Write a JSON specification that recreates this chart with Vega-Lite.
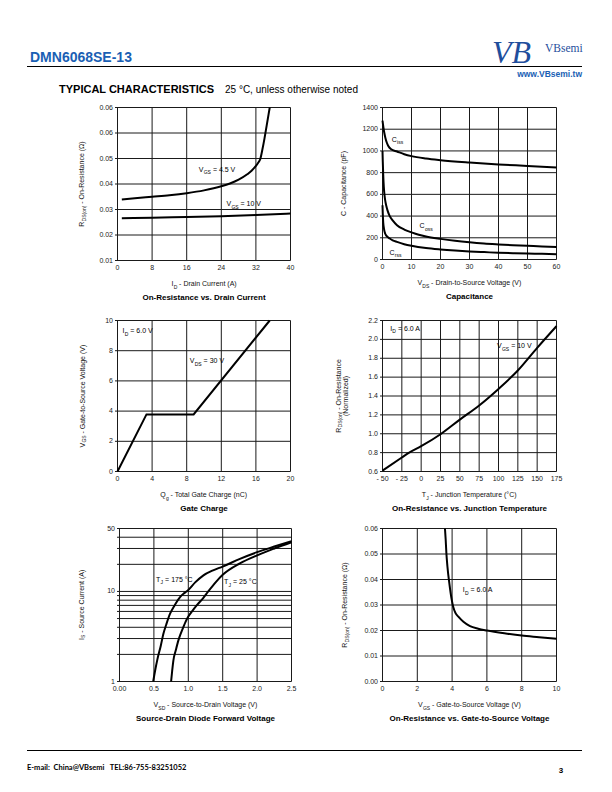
{
  "$schema": "https://vega.github.io/schema/vega-lite/v6.json",
  "width": 612,
  "height": 792,
  "autosize": {"type": "none"},
  "padding": 0,
  "background": "white",
  "config": {
    "view": {"stroke": null},
    "font": "Liberation Sans",
    "text": {"font": "Liberation Sans"}
  },
  "resolve": {"scale": {"x": "independent", "y": "independent"}, "axis": {"x": "independent", "y": "independent"}},
  "datasets": {
    "one": [{}],
    "c1": [
      {"s":"4.5","x":1,"y":0.0339},{"s":"4.5","x":4,"y":0.0344},{"s":"4.5","x":8,"y":0.035},{"s":"4.5","x":12,"y":0.0356},{"s":"4.5","x":16,"y":0.0364},{"s":"4.5","x":20,"y":0.0375},{"s":"4.5","x":24,"y":0.0391},{"s":"4.5","x":26,"y":0.0402},{"s":"4.5","x":28,"y":0.0417},{"s":"4.5","x":30,"y":0.0438},{"s":"4.5","x":31,"y":0.0452},{"s":"4.5","x":32,"y":0.0471},{"s":"4.5","x":32.6,"y":0.0485},{"s":"4.5","x":33,"y":0.0497},{"s":"4.5","x":33.5,"y":0.0535},{"s":"4.5","x":34,"y":0.058},{"s":"4.5","x":34.5,"y":0.063},{"s":"4.5","x":35.2,"y":0.07},
      {"s":"10","x":1,"y":0.0266},{"s":"10","x":8,"y":0.0268},{"s":"10","x":16,"y":0.0271},{"s":"10","x":24,"y":0.0274},{"s":"10","x":32,"y":0.0278},{"s":"10","x":40,"y":0.0284}
    ],
    "c1_gx": [{"v":0,"t":"0"},{"v":8,"t":"8"},{"v":16,"t":"16"},{"v":24,"t":"24"},{"v":32,"t":"32"},{"v":40,"t":"40"}],
    "c1_gy": [{"v":0.01,"t":"0.01"},{"v":0.02,"t":"0.02"},{"v":0.03,"t":"0.03"},{"v":0.04,"t":"0.04"},{"v":0.05,"t":"0.05"},{"v":0.06,"t":"0.06"},{"v":0.07,"t":"0.06"}],
    "c1_lab": [
      {"lx":18.8,"ly":0.0455,"a":"V","b":"GS","c":"= 4.5 V"},
      {"lx":25.2,"ly":0.032,"a":"V","b":"GS","c":"= 10 V"}
    ],
    "c2": [
      {"s":"iss","x":0,"y":1280},{"s":"iss","x":0.3,"y":1220},{"s":"iss","x":0.6,"y":1170},{"s":"iss","x":1,"y":1120},{"s":"iss","x":1.5,"y":1075},{"s":"iss","x":2,"y":1045},{"s":"iss","x":3,"y":1015},{"s":"iss","x":5,"y":995},{"s":"iss","x":7.5,"y":970},{"s":"iss","x":10,"y":952},{"s":"iss","x":15,"y":930},{"s":"iss","x":20,"y":915},{"s":"iss","x":30,"y":893},{"s":"iss","x":40,"y":875},{"s":"iss","x":50,"y":862},{"s":"iss","x":60,"y":848},
      {"s":"oss","x":0,"y":1000},{"s":"oss","x":0.1,"y":900},{"s":"oss","x":0.25,"y":780},{"s":"oss","x":0.45,"y":670},{"s":"oss","x":0.7,"y":590},{"s":"oss","x":0.9,"y":550},{"s":"oss","x":1.3,"y":495},{"s":"oss","x":1.7,"y":455},{"s":"oss","x":2.5,"y":400},{"s":"oss","x":3.5,"y":360},{"s":"oss","x":5,"y":316},{"s":"oss","x":7.5,"y":276},{"s":"oss","x":10,"y":250},{"s":"oss","x":12.5,"y":228},{"s":"oss","x":15,"y":212},{"s":"oss","x":20,"y":190},{"s":"oss","x":25,"y":172},{"s":"oss","x":30,"y":158},{"s":"oss","x":35,"y":147},{"s":"oss","x":40,"y":139},{"s":"oss","x":45,"y":132},{"s":"oss","x":50,"y":126},{"s":"oss","x":55,"y":120},{"s":"oss","x":60,"y":115},
      {"s":"rss","x":0,"y":500},{"s":"rss","x":0.1,"y":420},{"s":"rss","x":0.25,"y":340},{"s":"rss","x":0.5,"y":285},{"s":"rss","x":0.9,"y":240},{"s":"rss","x":1.3,"y":220},{"s":"rss","x":1.7,"y":209},{"s":"rss","x":2.5,"y":193},{"s":"rss","x":3.5,"y":177},{"s":"rss","x":5,"y":162},{"s":"rss","x":7.5,"y":141},{"s":"rss","x":10,"y":126},{"s":"rss","x":15,"y":105},{"s":"rss","x":20,"y":92},{"s":"rss","x":25,"y":82},{"s":"rss","x":30,"y":74},{"s":"rss","x":35,"y":68},{"s":"rss","x":40,"y":62},{"s":"rss","x":45,"y":58},{"s":"rss","x":50,"y":55},{"s":"rss","x":55,"y":52},{"s":"rss","x":60,"y":49}
    ],
    "c2_gx": [{"v":0,"t":"0"},{"v":10,"t":"10"},{"v":20,"t":"20"},{"v":30,"t":"30"},{"v":40,"t":"40"},{"v":50,"t":"50"},{"v":60,"t":"60"}],
    "c2_gy": [{"v":0,"t":"0"},{"v":200,"t":"200"},{"v":400,"t":"400"},{"v":600,"t":"600"},{"v":800,"t":"800"},{"v":1000,"t":"1000"},{"v":1200,"t":"1200"},{"v":1400,"t":"1400"}],
    "c2_lab": [
      {"lx":3.2,"ly":1105,"a":"C","b":"iss"},
      {"lx":12.8,"ly":307,"a":"C","b":"oss"},
      {"lx":2.4,"ly":61,"a":"C","b":"rss"}
    ],
    "c3": [{"x":0,"y":0},{"x":3.35,"y":3.78},{"x":8.8,"y":3.78},{"x":17.6,"y":10}],
    "c3_gx": [{"v":0,"t":"0"},{"v":4,"t":"4"},{"v":8,"t":"8"},{"v":12,"t":"12"},{"v":16,"t":"16"},{"v":20,"t":"20"}],
    "c3_gy": [{"v":0,"t":"0"},{"v":2,"t":"2"},{"v":4,"t":"4"},{"v":6,"t":"6"},{"v":8,"t":"8"},{"v":10,"t":"10"}],
    "c3_lab_id": [{"lx":0.58,"ly":9.29,"a":"I","b":"D","c":"= 6.0 V"}],
    "c3_lab_vds": [{"lx":8.36,"ly":7.31,"a":"V","b":"DS","c":"= 30 V"}],
    "c4": [{"x":-50,"y":0.61},{"x":-25,"y":0.748},{"x":-15.5,"y":0.8},{"x":0,"y":0.868},{"x":25,"y":0.995},{"x":50,"y":1.15},{"x":75,"y":1.3},{"x":100,"y":1.475},{"x":125,"y":1.67},{"x":150,"y":1.91},{"x":175,"y":2.14}],
    "c4_gx": [{"v":-50,"t":"- 50"},{"v":-25,"t":"- 25"},{"v":0,"t":"0"},{"v":25,"t":"25"},{"v":50,"t":"50"},{"v":75,"t":"75"},{"v":100,"t":"100"},{"v":125,"t":"125"},{"v":150,"t":"150"},{"v":175,"t":"175"}],
    "c4_gy": [{"v":0.6,"t":"0.6"},{"v":0.8,"t":"0.8"},{"v":1.0,"t":"1.0"},{"v":1.2,"t":"1.2"},{"v":1.4,"t":"1.4"},{"v":1.6,"t":"1.6"},{"v":1.8,"t":"1.8"},{"v":2.0,"t":"2.0"},{"v":2.2,"t":"2.2"}],
    "c4_lab_id": [{"lx":-40.1,"ly":2.115,"a":"I","b":"D","c":"= 6.0 A"}],
    "c4_lab_vgs": [{"lx":98.1,"ly":1.926,"a":"V","b":"GS","c":"= 10 V"}],
    "c5": [
      {"s":"175","x":0.49,"y":1},{"s":"175","x":0.52,"y":1.35},{"s":"175","x":0.55,"y":1.75},{"s":"175","x":0.6,"y":2.5},{"s":"175","x":0.638,"y":3.39},{"s":"175","x":0.68,"y":4.3},{"s":"175","x":0.735,"y":5.66},{"s":"175","x":0.8,"y":7.0},{"s":"175","x":0.88,"y":8.67},{"s":"175","x":0.95,"y":9.7},{"s":"175","x":1.0,"y":10.4},{"s":"175","x":1.1,"y":12.6},{"s":"175","x":1.22,"y":15.1},{"s":"175","x":1.35,"y":17},{"s":"175","x":1.5,"y":18.9},{"s":"175","x":1.75,"y":23},{"s":"175","x":2.0,"y":27.3},{"s":"175","x":2.25,"y":31.5},{"s":"175","x":2.5,"y":36.2},
      {"s":"25","x":0.75,"y":1},{"s":"25","x":0.765,"y":1.3},{"s":"25","x":0.783,"y":1.71},{"s":"25","x":0.82,"y":2.25},{"s":"25","x":0.856,"y":2.86},{"s":"25","x":0.89,"y":3.4},{"s":"25","x":0.928,"y":4.02},{"s":"25","x":0.96,"y":4.6},{"s":"25","x":0.996,"y":5.2},{"s":"25","x":1.06,"y":6.1},{"s":"25","x":1.122,"y":7.0},{"s":"25","x":1.219,"y":8.5},{"s":"25","x":1.29,"y":10},{"s":"25","x":1.4,"y":12.7},{"s":"25","x":1.5,"y":15.3},{"s":"25","x":1.75,"y":20.5},{"s":"25","x":2.0,"y":25.2},{"s":"25","x":2.25,"y":30},{"s":"25","x":2.5,"y":35.2}
    ],
    "c5_gx": [{"v":0,"t":"0.00"},{"v":0.5,"t":"0.5"},{"v":1,"t":"1.0"},{"v":1.5,"t":"1.5"},{"v":2,"t":"2.0"},{"v":2.5,"t":"2.5"}],
    "c5_gy": [{"v":1},{"v":2},{"v":3},{"v":4},{"v":5},{"v":6},{"v":7},{"v":8},{"v":9},{"v":10},{"v":20},{"v":30},{"v":40},{"v":50}],
    "c5_ly": [{"v":1,"t":"1"},{"v":10,"t":"10"},{"v":50,"t":"50"}],
    "c5_lab": [
      {"lx":0.532,"ly":13.5,"a":"T","b":"J","c":"= 175 °C"},
      {"lx":1.52,"ly":12.7,"a":"T","b":"J","c":"= 25 °C"}
    ],
    "c6": [{"x":3.59,"y":0.06},{"x":3.63,"y":0.0558},{"x":3.67,"y":0.0505},{"x":3.73,"y":0.0452},{"x":3.84,"y":0.0386},{"x":3.98,"y":0.032},{"x":4.07,"y":0.0291},{"x":4.2,"y":0.0268},{"x":4.36,"y":0.0254},{"x":4.65,"y":0.0234},{"x":5.03,"y":0.0217},{"x":5.5,"y":0.0207},{"x":6.0,"y":0.02},{"x":7.0,"y":0.0189},{"x":8.0,"y":0.018},{"x":9.0,"y":0.0174},{"x":10.0,"y":0.0168}],
    "c6_gx": [{"v":0,"t":"0"},{"v":2,"t":"2"},{"v":4,"t":"4"},{"v":6,"t":"6"},{"v":8,"t":"8"},{"v":10,"t":"10"}],
    "c6_gy": [{"v":0,"t":"0.00"},{"v":0.01,"t":"0.01"},{"v":0.02,"t":"0.02"},{"v":0.03,"t":"0.03"},{"v":0.04,"t":"0.04"},{"v":0.05,"t":"0.05"},{"v":0.06,"t":"0.06"}],
    "c6_lab": [{"lx":4.61,"ly":0.0357,"a":"I","b":"D","c":"= 6.0 A"}]
  },
  "layer": [
    {
      "data": {"name": "one"},
      "mark": {"type": "rule", "color": "#000", "strokeWidth": 1},
      "encoding": {
        "x": {"datum": 0, "type": "quantitative", "scale": {"domain": [0, 1], "range": [27, 582], "nice": false, "zero": false},
              "axis": {"orient": "top", "offset": 0, "ticks": false, "labels": false, "domain": false, "grid": false, "translate": 0,
                       "title": "DMN6068SE-13", "titleX": 30, "titleY": 62, "titleAlign": "left", "titleBaseline": "alphabetic", "titleAngle": 0,
                       "titleFont": "Liberation Sans", "titleFontSize": 14, "titleFontWeight": "bold", "titleColor": "#1a5fb4"}},
        "x2": {"datum": 1},
        "y": {"datum": 0, "type": "quantitative", "scale": {"domain": [0, 1], "range": [66.5, 67.5], "nice": false, "zero": false},
              "axis": {"orient": "left", "offset": 0, "ticks": false, "labels": false, "domain": false, "grid": false, "translate": 0,
                       "title": "www.VBsemi.tw", "titleX": 582, "titleY": 76.5, "titleAlign": "right", "titleBaseline": "alphabetic", "titleAngle": 0,
                       "titleFont": "Liberation Sans", "titleFontSize": 8.5, "titleFontWeight": "bold", "titleColor": "#1a5fb4"}}
      }
    },
    {
      "data": {"name": "one"},
      "mark": {"type": "rule", "color": "#000", "strokeWidth": 1},
      "encoding": {
        "x": {"datum": 0, "type": "quantitative", "scale": {"domain": [0, 1], "range": [27, 582], "nice": false, "zero": false},
              "axis": {"orient": "top", "offset": 0, "ticks": false, "labels": false, "domain": false, "grid": false, "translate": 0,
                       "title": "E-mail:\u00a0 China@VBsemi\u00a0\u00a0 TEL:86-755-83251052", "titleX": 27, "titleY": 769.5, "titleAlign": "left", "titleBaseline": "alphabetic", "titleAngle": 0,
                       "titleFont": "Lato, Liberation Sans", "titleFontSize": 7.5, "titleFontWeight": "bold", "titleColor": "#000"}},
        "x2": {"datum": 1},
        "y": {"datum": 0, "type": "quantitative", "scale": {"domain": [0, 1], "range": [750.5, 751.5], "nice": false, "zero": false},
              "axis": {"orient": "left", "offset": 0, "ticks": false, "labels": false, "domain": false, "grid": false, "translate": 0,
                       "title": "3", "titleX": 561, "titleY": 773, "titleAlign": "center", "titleBaseline": "alphabetic", "titleAngle": 0,
                       "titleFont": "Liberation Sans", "titleFontSize": 8, "titleFontWeight": "bold", "titleColor": "#000"}}
      }
    },
    {
      "data": {"name": "one"},
      "mark": {"type": "rule", "opacity": 0},
      "encoding": {
        "x": {"datum": 0, "type": "quantitative", "scale": {"domain": [0, 1], "range": [59, 216], "nice": false, "zero": false},
              "axis": {"orient": "top", "offset": 0, "ticks": false, "labels": false, "domain": false, "grid": false, "translate": 0,
                       "title": "TYPICAL CHARACTERISTICS", "titleX": 59, "titleY": 93, "titleAlign": "left", "titleBaseline": "alphabetic", "titleAngle": 0,
                       "titleFont": "Liberation Sans", "titleFontSize": 11, "titleFontWeight": "bold", "titleColor": "#000"}},
        "x2": {"datum": 1},
        "y": {"datum": 0, "type": "quantitative", "scale": {"domain": [0, 1], "range": [84, 94], "nice": false, "zero": false},
              "axis": {"orient": "left", "offset": 0, "ticks": false, "labels": false, "domain": false, "grid": false, "translate": 0,
                       "title": "25 °C, unless otherwise noted", "titleX": 225, "titleY": 93, "titleAlign": "left", "titleBaseline": "alphabetic", "titleAngle": 0,
                       "titleFont": "Liberation Sans", "titleFontSize": 10, "titleFontWeight": "normal", "titleColor": "#000"}}
      }
    },
    {
      "data": {"name": "one"},
      "mark": {"type": "rule", "opacity": 0},
      "encoding": {
        "x": {"datum": 0, "type": "quantitative", "scale": {"domain": [0, 1], "range": [490, 582], "nice": false, "zero": false},
              "axis": {"orient": "top", "offset": 0, "ticks": false, "labels": false, "domain": false, "grid": false, "translate": 0,
                       "title": "VBsemi", "titleX": 545, "titleY": 51.5, "titleAlign": "left", "titleBaseline": "alphabetic", "titleAngle": 0,
                       "titleFont": "Liberation Serif", "titleFontSize": 11.5, "titleFontWeight": "normal", "titleColor": "#1f4e9c"}},
        "x2": {"datum": 1},
        "y": {"datum": 0, "type": "quantitative", "scale": {"domain": [0, 1], "range": [33, 65], "nice": false, "zero": false},
              "axis": {"orient": "left", "offset": 0, "ticks": false, "labels": false, "domain": false, "grid": false, "translate": 0,
                       "title": "VB", "titleX": 492, "titleY": 63, "titleAlign": "left", "titleBaseline": "alphabetic", "titleAngle": 0,
                       "titleFont": "Liberation Serif", "titleFontSize": 32, "titleFontStyle": "italic", "titleFontWeight": "normal", "titleColor": "#1f4e9c"}}
      }
    },
    {
      "layer": [
        {"data": {"name": "c1_gx"}, "mark": {"type": "rule", "color": "#1a1a1a", "strokeWidth": 1},
         "encoding": {"x": {"field": "v", "type": "quantitative", "axis": null}, "y": {"datum": 0.01, "type": "quantitative", "axis": null}, "y2": {"datum": 0.07}}},
        {"data": {"name": "c1_gy"}, "mark": {"type": "rule", "color": "#1a1a1a", "strokeWidth": 1},
         "encoding": {"y": {"field": "v", "type": "quantitative", "axis": null}, "x": {"datum": -0.58, "type": "quantitative", "axis": null}, "x2": {"datum": 40}}},
        {"data": {"name": "c1"}, "mark": {"type": "line", "color": "#000", "strokeWidth": 2, "interpolate": "monotone"},
         "encoding": {
           "x": {"field": "x", "type": "quantitative", "scale": {"domain": [0, 40], "range": [117.5, 290.5], "nice": false, "zero": false}, "axis": null},
           "y": {"field": "y", "type": "quantitative", "scale": {"domain": [0.01, 0.07], "range": [260.5, 107.5], "nice": false, "zero": false}, "axis": null},
           "detail": {"field": "s", "type": "nominal"}}},
        {"data": {"name": "c1_gy"}, "mark": {"type": "text", "align": "right", "baseline": "middle", "fontSize": 7, "color": "#222", "dx": -4.5},
         "encoding": {"x": {"datum": 0, "type": "quantitative", "axis": null}, "y": {"field": "v", "type": "quantitative", "axis": null}, "text": {"field": "t"}}},
        {"data": {"name": "c1_gx"}, "mark": {"type": "text", "align": "center", "baseline": "top", "fontSize": 7, "color": "#222", "dy": 3.5},
         "encoding": {"x": {"field": "v", "type": "quantitative", "axis": null}, "y": {"datum": 0.01, "type": "quantitative", "axis": null}, "text": {"field": "t"}}},
        {"data": {"name": "c1_lab"}, "mark": {"type": "text", "align": "left", "baseline": "middle", "fontSize": 7, "color": "#000"},
         "encoding": {"x": {"field": "lx", "type": "quantitative", "axis": null}, "y": {"field": "ly", "type": "quantitative", "axis": null}, "text": {"field": "a"}}},
        {"data": {"name": "c1_lab"}, "mark": {"type": "text", "align": "left", "baseline": "middle", "fontSize": 5, "color": "#000", "dx": 4.9, "dy": 2.5},
         "encoding": {"x": {"field": "lx", "type": "quantitative", "axis": null}, "y": {"field": "ly", "type": "quantitative", "axis": null}, "text": {"field": "b"}}},
        {"data": {"name": "c1_lab"}, "mark": {"type": "text", "align": "left", "baseline": "middle", "fontSize": 7, "color": "#000", "dx": 14.1},
         "encoding": {"x": {"field": "lx", "type": "quantitative", "axis": null}, "y": {"field": "ly", "type": "quantitative", "axis": null}, "text": {"field": "c"}}},
        {"data": {"name": "one"}, "mark": {"type": "text", "text": "I", "align": "left", "baseline": "middle", "fontSize": 7, "color": "#111", "dx": -32.5, "dy": 23.5},
         "encoding": {"x": {"datum": 20, "type": "quantitative", "axis": null}, "y": {"datum": 0.01, "type": "quantitative", "axis": null}}},
        {"data": {"name": "one"}, "mark": {"type": "text", "text": "D", "align": "left", "baseline": "middle", "fontSize": 5, "color": "#111", "dx": -30.3, "dy": 26},
         "encoding": {"x": {"datum": 20, "type": "quantitative", "axis": null}, "y": {"datum": 0.01, "type": "quantitative", "axis": null}}},
        {"data": {"name": "one"}, "mark": {"type": "text", "text": "- Drain Current (A)", "align": "left", "baseline": "middle", "fontSize": 7, "color": "#111", "dx": -24.9, "dy": 23.5},
         "encoding": {"x": {"datum": 20, "type": "quantitative", "axis": null}, "y": {"datum": 0.01, "type": "quantitative", "axis": null}}},
        {"data": {"name": "one"}, "mark": {"type": "text", "text": "R", "angle": 270, "align": "left", "baseline": "alphabetic", "fontSize": 7, "color": "#111", "dx": -42.7, "dy": -33.5},
         "encoding": {"x": {"datum": 0, "type": "quantitative", "axis": null}, "y": {"datum": 0.04, "type": "quantitative", "axis": null}}},
        {"data": {"name": "one"}, "mark": {"type": "text", "text": "DS(on)", "angle": 270, "align": "left", "baseline": "alphabetic", "fontSize": 5, "color": "#111", "dx": -37.4, "dy": -31.7},
         "encoding": {"x": {"datum": 0, "type": "quantitative", "axis": null}, "y": {"datum": 0.04, "type": "quantitative", "axis": null}}},
        {"data": {"name": "one"}, "mark": {"type": "text", "text": "- On-Resistance (Ω)", "angle": 270, "align": "left", "baseline": "alphabetic", "fontSize": 7, "color": "#111", "dx": -19.8, "dy": -33.5},
         "encoding": {"x": {"datum": 0, "type": "quantitative", "axis": null}, "y": {"datum": 0.04, "type": "quantitative", "axis": null}}},
        {"data": {"name": "one"}, "mark": {"type": "text", "text": "On-Resistance vs. Drain Current", "fontSize": 8, "fontWeight": "bold", "align": "center", "baseline": "middle", "dy": 37.5, "color": "#000"},
         "encoding": {"x": {"datum": 20, "type": "quantitative", "axis": null}, "y": {"datum": 0.01, "type": "quantitative", "axis": null}}}
      ]
    },
    {
      "layer": [
        {"data": {"name": "c2_gx"}, "mark": {"type": "rule", "color": "#1a1a1a", "strokeWidth": 1},
         "encoding": {"x": {"field": "v", "type": "quantitative", "axis": null}, "y": {"datum": 0, "type": "quantitative", "axis": null}, "y2": {"datum": 1400}}},
        {"data": {"name": "c2_gy"}, "mark": {"type": "rule", "color": "#1a1a1a", "strokeWidth": 1},
         "encoding": {"y": {"field": "v", "type": "quantitative", "axis": null}, "x": {"datum": -0.86, "type": "quantitative", "axis": null}, "x2": {"datum": 60}}},
        {"data": {"name": "c2"}, "mark": {"type": "line", "color": "#000", "strokeWidth": 2, "interpolate": "monotone"},
         "encoding": {
           "x": {"field": "x", "type": "quantitative", "scale": {"domain": [0, 60], "range": [382.5, 556.5], "nice": false, "zero": false}, "axis": null},
           "y": {"field": "y", "type": "quantitative", "scale": {"domain": [0, 1400], "range": [259.5, 107.5], "nice": false, "zero": false}, "axis": null},
           "detail": {"field": "s", "type": "nominal"}}},
        {"data": {"name": "c2_gy"}, "mark": {"type": "text", "align": "right", "baseline": "middle", "fontSize": 7, "color": "#222", "dx": -4.5},
         "encoding": {"x": {"datum": 0, "type": "quantitative", "axis": null}, "y": {"field": "v", "type": "quantitative", "axis": null}, "text": {"field": "t"}}},
        {"data": {"name": "c2_gx"}, "mark": {"type": "text", "align": "center", "baseline": "top", "fontSize": 7, "color": "#222", "dy": 3.5},
         "encoding": {"x": {"field": "v", "type": "quantitative", "axis": null}, "y": {"datum": 0, "type": "quantitative", "axis": null}, "text": {"field": "t"}}},
        {"data": {"name": "c2_lab"}, "mark": {"type": "text", "align": "left", "baseline": "middle", "fontSize": 7, "color": "#000"},
         "encoding": {"x": {"field": "lx", "type": "quantitative", "axis": null}, "y": {"field": "ly", "type": "quantitative", "axis": null}, "text": {"field": "a"}}},
        {"data": {"name": "c2_lab"}, "mark": {"type": "text", "align": "left", "baseline": "middle", "fontSize": 5, "color": "#000", "dx": 5.3, "dy": 2.5},
         "encoding": {"x": {"field": "lx", "type": "quantitative", "axis": null}, "y": {"field": "ly", "type": "quantitative", "axis": null}, "text": {"field": "b"}}},
        {"data": {"name": "one"}, "mark": {"type": "text", "text": "V", "align": "left", "baseline": "middle", "fontSize": 7, "color": "#111", "dx": -52.1, "dy": 23.5},
         "encoding": {"x": {"datum": 30, "type": "quantitative", "axis": null}, "y": {"datum": 0, "type": "quantitative", "axis": null}}},
        {"data": {"name": "one"}, "mark": {"type": "text", "text": "DS", "align": "left", "baseline": "middle", "fontSize": 5, "color": "#111", "dx": -47.2, "dy": 26},
         "encoding": {"x": {"datum": 30, "type": "quantitative", "axis": null}, "y": {"datum": 0, "type": "quantitative", "axis": null}}},
        {"data": {"name": "one"}, "mark": {"type": "text", "text": "- Drain-to-Source Voltage (V)", "align": "left", "baseline": "middle", "fontSize": 7, "color": "#111", "dx": -38.4, "dy": 23.5},
         "encoding": {"x": {"datum": 30, "type": "quantitative", "axis": null}, "y": {"datum": 0, "type": "quantitative", "axis": null}}},
        {"data": {"name": "one"}, "mark": {"type": "text", "text": "C - Capacitance (pF)", "angle": 270, "align": "center", "baseline": "alphabetic", "fontSize": 7, "color": "#111", "dy": -37},
         "encoding": {"x": {"datum": 0, "type": "quantitative", "axis": null}, "y": {"datum": 700, "type": "quantitative", "axis": null}}},
        {"data": {"name": "one"}, "mark": {"type": "text", "text": "Capacitance", "fontSize": 8, "fontWeight": "bold", "align": "center", "baseline": "middle", "dy": 37.5, "color": "#000"},
         "encoding": {"x": {"datum": 30, "type": "quantitative", "axis": null}, "y": {"datum": 0, "type": "quantitative", "axis": null}}}
      ]
    },
    {
      "layer": [
        {"data": {"name": "c3_gx"}, "mark": {"type": "rule", "color": "#1a1a1a", "strokeWidth": 1},
         "encoding": {"x": {"field": "v", "type": "quantitative", "axis": null}, "y": {"datum": 0, "type": "quantitative", "axis": null}, "y2": {"datum": 10}}},
        {"data": {"name": "c3_gy"}, "mark": {"type": "rule", "color": "#1a1a1a", "strokeWidth": 1},
         "encoding": {"y": {"field": "v", "type": "quantitative", "axis": null}, "x": {"datum": -0.29, "type": "quantitative", "axis": null}, "x2": {"datum": 20}}},
        {"data": {"name": "c3"}, "mark": {"type": "line", "color": "#000", "strokeWidth": 2},
         "encoding": {
           "x": {"field": "x", "type": "quantitative", "scale": {"domain": [0, 20], "range": [117.5, 290.5], "nice": false, "zero": false}, "axis": null},
           "y": {"field": "y", "type": "quantitative", "scale": {"domain": [0, 10], "range": [471.5, 320.5], "nice": false, "zero": false}, "axis": null}}},
        {"data": {"name": "c3_gy"}, "mark": {"type": "text", "align": "right", "baseline": "middle", "fontSize": 7, "color": "#222", "dx": -4.5},
         "encoding": {"x": {"datum": 0, "type": "quantitative", "axis": null}, "y": {"field": "v", "type": "quantitative", "axis": null}, "text": {"field": "t"}}},
        {"data": {"name": "c3_gx"}, "mark": {"type": "text", "align": "center", "baseline": "top", "fontSize": 7, "color": "#222", "dy": 3.5},
         "encoding": {"x": {"field": "v", "type": "quantitative", "axis": null}, "y": {"datum": 0, "type": "quantitative", "axis": null}, "text": {"field": "t"}}},
        {"data": {"name": "c3_lab_id"}, "mark": {"type": "text", "align": "left", "baseline": "middle", "fontSize": 7, "color": "#000"},
         "encoding": {"x": {"field": "lx", "type": "quantitative", "axis": null}, "y": {"field": "ly", "type": "quantitative", "axis": null}, "text": {"field": "a"}}},
        {"data": {"name": "c3_lab_id"}, "mark": {"type": "text", "align": "left", "baseline": "middle", "fontSize": 5, "color": "#000", "dx": 2.2, "dy": 2.5},
         "encoding": {"x": {"field": "lx", "type": "quantitative", "axis": null}, "y": {"field": "ly", "type": "quantitative", "axis": null}, "text": {"field": "b"}}},
        {"data": {"name": "c3_lab_id"}, "mark": {"type": "text", "align": "left", "baseline": "middle", "fontSize": 7, "color": "#000", "dx": 7.8},
         "encoding": {"x": {"field": "lx", "type": "quantitative", "axis": null}, "y": {"field": "ly", "type": "quantitative", "axis": null}, "text": {"field": "c"}}},
        {"data": {"name": "c3_lab_vds"}, "mark": {"type": "text", "align": "left", "baseline": "middle", "fontSize": 7, "color": "#000"},
         "encoding": {"x": {"field": "lx", "type": "quantitative", "axis": null}, "y": {"field": "ly", "type": "quantitative", "axis": null}, "text": {"field": "a"}}},
        {"data": {"name": "c3_lab_vds"}, "mark": {"type": "text", "align": "left", "baseline": "middle", "fontSize": 5, "color": "#000", "dx": 4.9, "dy": 2.5},
         "encoding": {"x": {"field": "lx", "type": "quantitative", "axis": null}, "y": {"field": "ly", "type": "quantitative", "axis": null}, "text": {"field": "b"}}},
        {"data": {"name": "c3_lab_vds"}, "mark": {"type": "text", "align": "left", "baseline": "middle", "fontSize": 7, "color": "#000", "dx": 13.8},
         "encoding": {"x": {"field": "lx", "type": "quantitative", "axis": null}, "y": {"field": "ly", "type": "quantitative", "axis": null}, "text": {"field": "c"}}},
        {"data": {"name": "one"}, "mark": {"type": "text", "text": "Q", "align": "left", "baseline": "middle", "fontSize": 7, "color": "#111", "dx": -43.8, "dy": 23.5},
         "encoding": {"x": {"datum": 10, "type": "quantitative", "axis": null}, "y": {"datum": 0, "type": "quantitative", "axis": null}}},
        {"data": {"name": "one"}, "mark": {"type": "text", "text": "g", "align": "left", "baseline": "middle", "fontSize": 5, "color": "#111", "dx": -38.1, "dy": 26},
         "encoding": {"x": {"datum": 10, "type": "quantitative", "axis": null}, "y": {"datum": 0, "type": "quantitative", "axis": null}}},
        {"data": {"name": "one"}, "mark": {"type": "text", "text": "- Total Gate Charge (nC)", "align": "left", "baseline": "middle", "fontSize": 7, "color": "#111", "dx": -33.5, "dy": 23.5},
         "encoding": {"x": {"datum": 10, "type": "quantitative", "axis": null}, "y": {"datum": 0, "type": "quantitative", "axis": null}}},
        {"data": {"name": "one"}, "mark": {"type": "text", "text": "V", "angle": 270, "align": "left", "baseline": "alphabetic", "fontSize": 7, "color": "#111", "dx": -51.5, "dy": -33},
         "encoding": {"x": {"datum": 0, "type": "quantitative", "axis": null}, "y": {"datum": 5, "type": "quantitative", "axis": null}}},
        {"data": {"name": "one"}, "mark": {"type": "text", "text": "GS", "angle": 270, "align": "left", "baseline": "alphabetic", "fontSize": 5, "color": "#111", "dx": -46.6, "dy": -31.2},
         "encoding": {"x": {"datum": 0, "type": "quantitative", "axis": null}, "y": {"datum": 5, "type": "quantitative", "axis": null}}},
        {"data": {"name": "one"}, "mark": {"type": "text", "text": "- Gate-to-Source Voltage (V)", "angle": 270, "align": "left", "baseline": "alphabetic", "fontSize": 7, "color": "#111", "dx": -37.5, "dy": -33},
         "encoding": {"x": {"datum": 0, "type": "quantitative", "axis": null}, "y": {"datum": 5, "type": "quantitative", "axis": null}}},
        {"data": {"name": "one"}, "mark": {"type": "text", "text": "Gate Charge", "fontSize": 8, "fontWeight": "bold", "align": "center", "baseline": "middle", "dy": 37.5, "color": "#000"},
         "encoding": {"x": {"datum": 10, "type": "quantitative", "axis": null}, "y": {"datum": 0, "type": "quantitative", "axis": null}}}
      ]
    },
    {
      "layer": [
        {"data": {"name": "c4_gx"}, "mark": {"type": "rule", "color": "#1a1a1a", "strokeWidth": 1},
         "encoding": {"x": {"field": "v", "type": "quantitative", "axis": null}, "y": {"datum": 0.6, "type": "quantitative", "axis": null}, "y2": {"datum": 2.2}}},
        {"data": {"name": "c4_gy"}, "mark": {"type": "rule", "color": "#1a1a1a", "strokeWidth": 1},
         "encoding": {"y": {"field": "v", "type": "quantitative", "axis": null}, "x": {"datum": -53.2, "type": "quantitative", "axis": null}, "x2": {"datum": 175}}},
        {"data": {"name": "c4"}, "mark": {"type": "line", "color": "#000", "strokeWidth": 2, "interpolate": "monotone"},
         "encoding": {
           "x": {"field": "x", "type": "quantitative", "scale": {"domain": [-50, 175], "range": [382.5, 556.5], "nice": false, "zero": false}, "axis": null},
           "y": {"field": "y", "type": "quantitative", "scale": {"domain": [0.6, 2.2], "range": [471.5, 320.5], "nice": false, "zero": false}, "axis": null}}},
        {"data": {"name": "c4_gy"}, "mark": {"type": "text", "align": "right", "baseline": "middle", "fontSize": 7, "color": "#222", "dx": -4.5},
         "encoding": {"x": {"datum": -50, "type": "quantitative", "axis": null}, "y": {"field": "v", "type": "quantitative", "axis": null}, "text": {"field": "t"}}},
        {"data": {"name": "c4_gx"}, "mark": {"type": "text", "align": "center", "baseline": "top", "fontSize": 7, "color": "#222", "dy": 3.5},
         "encoding": {"x": {"field": "v", "type": "quantitative", "axis": null}, "y": {"datum": 0.6, "type": "quantitative", "axis": null}, "text": {"field": "t"}}},
        {"data": {"name": "c4_lab_id"}, "mark": {"type": "text", "align": "left", "baseline": "middle", "fontSize": 7, "color": "#000"},
         "encoding": {"x": {"field": "lx", "type": "quantitative", "axis": null}, "y": {"field": "ly", "type": "quantitative", "axis": null}, "text": {"field": "a"}}},
        {"data": {"name": "c4_lab_id"}, "mark": {"type": "text", "align": "left", "baseline": "middle", "fontSize": 5, "color": "#000", "dx": 2.2, "dy": 2.5},
         "encoding": {"x": {"field": "lx", "type": "quantitative", "axis": null}, "y": {"field": "ly", "type": "quantitative", "axis": null}, "text": {"field": "b"}}},
        {"data": {"name": "c4_lab_id"}, "mark": {"type": "text", "align": "left", "baseline": "middle", "fontSize": 7, "color": "#000", "dx": 7.8},
         "encoding": {"x": {"field": "lx", "type": "quantitative", "axis": null}, "y": {"field": "ly", "type": "quantitative", "axis": null}, "text": {"field": "c"}}},
        {"data": {"name": "c4_lab_vgs"}, "mark": {"type": "text", "align": "left", "baseline": "middle", "fontSize": 7, "color": "#000"},
         "encoding": {"x": {"field": "lx", "type": "quantitative", "axis": null}, "y": {"field": "ly", "type": "quantitative", "axis": null}, "text": {"field": "a"}}},
        {"data": {"name": "c4_lab_vgs"}, "mark": {"type": "text", "align": "left", "baseline": "middle", "fontSize": 5, "color": "#000", "dx": 4.9, "dy": 2.5},
         "encoding": {"x": {"field": "lx", "type": "quantitative", "axis": null}, "y": {"field": "ly", "type": "quantitative", "axis": null}, "text": {"field": "b"}}},
        {"data": {"name": "c4_lab_vgs"}, "mark": {"type": "text", "align": "left", "baseline": "middle", "fontSize": 7, "color": "#000", "dx": 14.1},
         "encoding": {"x": {"field": "lx", "type": "quantitative", "axis": null}, "y": {"field": "ly", "type": "quantitative", "axis": null}, "text": {"field": "c"}}},
        {"data": {"name": "one"}, "mark": {"type": "text", "text": "T", "align": "left", "baseline": "middle", "fontSize": 7, "color": "#111", "dx": -47.8, "dy": 23.5},
         "encoding": {"x": {"datum": 62.5, "type": "quantitative", "axis": null}, "y": {"datum": 0.6, "type": "quantitative", "axis": null}}},
        {"data": {"name": "one"}, "mark": {"type": "text", "text": "J", "align": "left", "baseline": "middle", "fontSize": 5, "color": "#111", "dx": -43.3, "dy": 26},
         "encoding": {"x": {"datum": 62.5, "type": "quantitative", "axis": null}, "y": {"datum": 0.6, "type": "quantitative", "axis": null}}},
        {"data": {"name": "one"}, "mark": {"type": "text", "text": "- Junction Temperature (°C)", "align": "left", "baseline": "middle", "fontSize": 7, "color": "#111", "dx": -38.9, "dy": 23.5},
         "encoding": {"x": {"datum": 62.5, "type": "quantitative", "axis": null}, "y": {"datum": 0.6, "type": "quantitative", "axis": null}}},
        {"data": {"name": "one"}, "mark": {"type": "text", "text": "R", "angle": 270, "align": "left", "baseline": "alphabetic", "fontSize": 7, "color": "#111", "dx": -36.7, "dy": -42},
         "encoding": {"x": {"datum": -50, "type": "quantitative", "axis": null}, "y": {"datum": 1.4, "type": "quantitative", "axis": null}}},
        {"data": {"name": "one"}, "mark": {"type": "text", "text": "DS(on)", "angle": 270, "align": "left", "baseline": "alphabetic", "fontSize": 5, "color": "#111", "dx": -31.4, "dy": -40.2},
         "encoding": {"x": {"datum": -50, "type": "quantitative", "axis": null}, "y": {"datum": 1.4, "type": "quantitative", "axis": null}}},
        {"data": {"name": "one"}, "mark": {"type": "text", "text": "- On-Resistance", "angle": 270, "align": "left", "baseline": "alphabetic", "fontSize": 7, "color": "#111", "dx": -13.8, "dy": -42},
         "encoding": {"x": {"datum": -50, "type": "quantitative", "axis": null}, "y": {"datum": 1.4, "type": "quantitative", "axis": null}}},
        {"data": {"name": "one"}, "mark": {"type": "text", "text": "(Normalized)", "angle": 270, "align": "center", "baseline": "alphabetic", "fontSize": 7, "color": "#111", "dy": -34.5},
         "encoding": {"x": {"datum": -50, "type": "quantitative", "axis": null}, "y": {"datum": 1.4, "type": "quantitative", "axis": null}}},
        {"data": {"name": "one"}, "mark": {"type": "text", "text": "On-Resistance vs. Junction Temperature", "fontSize": 8, "fontWeight": "bold", "align": "center", "baseline": "middle", "dy": 37.5, "color": "#000"},
         "encoding": {"x": {"datum": 62.5, "type": "quantitative", "axis": null}, "y": {"datum": 0.6, "type": "quantitative", "axis": null}}}
      ]
    },
    {
      "layer": [
        {"data": {"name": "c5_gx"}, "mark": {"type": "rule", "color": "#1a1a1a", "strokeWidth": 1},
         "encoding": {"x": {"field": "v", "type": "quantitative", "axis": null}, "y": {"datum": 1, "type": "quantitative", "axis": null}, "y2": {"datum": 50}}},
        {"data": {"name": "c5_gy"}, "mark": {"type": "rule", "color": "#1a1a1a", "strokeWidth": 1},
         "encoding": {"y": {"field": "v", "type": "quantitative", "axis": null}, "x": {"datum": -0.036, "type": "quantitative", "axis": null}, "x2": {"datum": 2.5}}},
        {"data": {"name": "c5"}, "mark": {"type": "line", "color": "#000", "strokeWidth": 2, "interpolate": "monotone"},
         "encoding": {
           "x": {"field": "x", "type": "quantitative", "scale": {"domain": [0, 2.5], "range": [119.5, 291.5], "nice": false, "zero": false}, "axis": null},
           "y": {"field": "y", "type": "quantitative", "scale": {"type": "log", "domain": [1, 50], "range": [681.5, 528.5], "nice": false}, "axis": null},
           "detail": {"field": "s", "type": "nominal"}}},
        {"data": {"name": "c5_ly"}, "mark": {"type": "text", "align": "right", "baseline": "middle", "fontSize": 7, "color": "#222", "dx": -4.5},
         "encoding": {"x": {"datum": 0, "type": "quantitative", "axis": null}, "y": {"field": "v", "type": "quantitative", "axis": null}, "text": {"field": "t"}}},
        {"data": {"name": "c5_gx"}, "mark": {"type": "text", "align": "center", "baseline": "top", "fontSize": 7, "color": "#222", "dy": 3.5},
         "encoding": {"x": {"field": "v", "type": "quantitative", "axis": null}, "y": {"datum": 1, "type": "quantitative", "axis": null}, "text": {"field": "t"}}},
        {"data": {"name": "c5_lab"}, "mark": {"type": "text", "align": "left", "baseline": "middle", "fontSize": 7, "color": "#000"},
         "encoding": {"x": {"field": "lx", "type": "quantitative", "axis": null}, "y": {"field": "ly", "type": "quantitative", "axis": null}, "text": {"field": "a"}}},
        {"data": {"name": "c5_lab"}, "mark": {"type": "text", "align": "left", "baseline": "middle", "fontSize": 5, "color": "#000", "dx": 4.5, "dy": 2.5},
         "encoding": {"x": {"field": "lx", "type": "quantitative", "axis": null}, "y": {"field": "ly", "type": "quantitative", "axis": null}, "text": {"field": "b"}}},
        {"data": {"name": "c5_lab"}, "mark": {"type": "text", "align": "left", "baseline": "middle", "fontSize": 7, "color": "#000", "dx": 9.0},
         "encoding": {"x": {"field": "lx", "type": "quantitative", "axis": null}, "y": {"field": "ly", "type": "quantitative", "axis": null}, "text": {"field": "c"}}},
        {"data": {"name": "one"}, "mark": {"type": "text", "text": "V", "align": "left", "baseline": "middle", "fontSize": 7, "color": "#111", "dx": -52.1, "dy": 23.5},
         "encoding": {"x": {"datum": 1.25, "type": "quantitative", "axis": null}, "y": {"datum": 1, "type": "quantitative", "axis": null}}},
        {"data": {"name": "one"}, "mark": {"type": "text", "text": "SD", "align": "left", "baseline": "middle", "fontSize": 5, "color": "#111", "dx": -47.2, "dy": 26},
         "encoding": {"x": {"datum": 1.25, "type": "quantitative", "axis": null}, "y": {"datum": 1, "type": "quantitative", "axis": null}}},
        {"data": {"name": "one"}, "mark": {"type": "text", "text": "- Source-to-Drain Voltage (V)", "align": "left", "baseline": "middle", "fontSize": 7, "color": "#111", "dx": -38.4, "dy": 23.5},
         "encoding": {"x": {"datum": 1.25, "type": "quantitative", "axis": null}, "y": {"datum": 1, "type": "quantitative", "axis": null}}},
        {"data": {"name": "one"}, "mark": {"type": "text", "text": "I", "angle": 270, "align": "left", "baseline": "alphabetic", "fontSize": 7, "color": "#111", "dx": -35.1, "dy": -36},
         "encoding": {"x": {"datum": 0, "type": "quantitative", "axis": null}, "y": {"datum": 7.071, "type": "quantitative", "axis": null}}},
        {"data": {"name": "one"}, "mark": {"type": "text", "text": "S", "angle": 270, "align": "left", "baseline": "alphabetic", "fontSize": 5, "color": "#111", "dx": -32.9, "dy": -34.2},
         "encoding": {"x": {"datum": 0, "type": "quantitative", "axis": null}, "y": {"datum": 7.071, "type": "quantitative", "axis": null}}},
        {"data": {"name": "one"}, "mark": {"type": "text", "text": "- Source Current (A)", "angle": 270, "align": "left", "baseline": "alphabetic", "fontSize": 7, "color": "#111", "dx": -27.8, "dy": -36},
         "encoding": {"x": {"datum": 0, "type": "quantitative", "axis": null}, "y": {"datum": 7.071, "type": "quantitative", "axis": null}}},
        {"data": {"name": "one"}, "mark": {"type": "text", "text": "Source-Drain Diode Forward Voltage", "fontSize": 8, "fontWeight": "bold", "align": "center", "baseline": "middle", "dy": 37.5, "color": "#000"},
         "encoding": {"x": {"datum": 1.25, "type": "quantitative", "axis": null}, "y": {"datum": 1, "type": "quantitative", "axis": null}}}
      ]
    },
    {
      "layer": [
        {"data": {"name": "c6_gx"}, "mark": {"type": "rule", "color": "#1a1a1a", "strokeWidth": 1},
         "encoding": {"x": {"field": "v", "type": "quantitative", "axis": null}, "y": {"datum": 0, "type": "quantitative", "axis": null}, "y2": {"datum": 0.06}}},
        {"data": {"name": "c6_gy"}, "mark": {"type": "rule", "color": "#1a1a1a", "strokeWidth": 1},
         "encoding": {"y": {"field": "v", "type": "quantitative", "axis": null}, "x": {"datum": -0.144, "type": "quantitative", "axis": null}, "x2": {"datum": 10}}},
        {"data": {"name": "c6"}, "mark": {"type": "line", "color": "#000", "strokeWidth": 2, "interpolate": "monotone"},
         "encoding": {
           "x": {"field": "x", "type": "quantitative", "scale": {"domain": [0, 10], "range": [382.5, 556.5], "nice": false, "zero": false}, "axis": null},
           "y": {"field": "y", "type": "quantitative", "scale": {"domain": [0, 0.06], "range": [681.5, 528.5], "nice": false, "zero": false}, "axis": null}}},
        {"data": {"name": "c6_gy"}, "mark": {"type": "text", "align": "right", "baseline": "middle", "fontSize": 7, "color": "#222", "dx": -4.5},
         "encoding": {"x": {"datum": 0, "type": "quantitative", "axis": null}, "y": {"field": "v", "type": "quantitative", "axis": null}, "text": {"field": "t"}}},
        {"data": {"name": "c6_gx"}, "mark": {"type": "text", "align": "center", "baseline": "top", "fontSize": 7, "color": "#222", "dy": 3.5},
         "encoding": {"x": {"field": "v", "type": "quantitative", "axis": null}, "y": {"datum": 0, "type": "quantitative", "axis": null}, "text": {"field": "t"}}},
        {"data": {"name": "c6_lab"}, "mark": {"type": "text", "align": "left", "baseline": "middle", "fontSize": 7, "color": "#000"},
         "encoding": {"x": {"field": "lx", "type": "quantitative", "axis": null}, "y": {"field": "ly", "type": "quantitative", "axis": null}, "text": {"field": "a"}}},
        {"data": {"name": "c6_lab"}, "mark": {"type": "text", "align": "left", "baseline": "middle", "fontSize": 5, "color": "#000", "dx": 2.2, "dy": 2.5},
         "encoding": {"x": {"field": "lx", "type": "quantitative", "axis": null}, "y": {"field": "ly", "type": "quantitative", "axis": null}, "text": {"field": "b"}}},
        {"data": {"name": "c6_lab"}, "mark": {"type": "text", "align": "left", "baseline": "middle", "fontSize": 7, "color": "#000", "dx": 7.8},
         "encoding": {"x": {"field": "lx", "type": "quantitative", "axis": null}, "y": {"field": "ly", "type": "quantitative", "axis": null}, "text": {"field": "c"}}},
        {"data": {"name": "one"}, "mark": {"type": "text", "text": "V", "align": "left", "baseline": "middle", "fontSize": 7, "color": "#111", "dx": -51.5, "dy": 23.5},
         "encoding": {"x": {"datum": 5, "type": "quantitative", "axis": null}, "y": {"datum": 0, "type": "quantitative", "axis": null}}},
        {"data": {"name": "one"}, "mark": {"type": "text", "text": "GS", "align": "left", "baseline": "middle", "fontSize": 5, "color": "#111", "dx": -46.6, "dy": 26},
         "encoding": {"x": {"datum": 5, "type": "quantitative", "axis": null}, "y": {"datum": 0, "type": "quantitative", "axis": null}}},
        {"data": {"name": "one"}, "mark": {"type": "text", "text": "- Gate-to-Source Voltage (V)", "align": "left", "baseline": "middle", "fontSize": 7, "color": "#111", "dx": -37.5, "dy": 23.5},
         "encoding": {"x": {"datum": 5, "type": "quantitative", "axis": null}, "y": {"datum": 0, "type": "quantitative", "axis": null}}},
        {"data": {"name": "one"}, "mark": {"type": "text", "text": "R", "angle": 270, "align": "left", "baseline": "alphabetic", "fontSize": 7, "color": "#111", "dx": -42.7, "dy": -35.5},
         "encoding": {"x": {"datum": 0, "type": "quantitative", "axis": null}, "y": {"datum": 0.03, "type": "quantitative", "axis": null}}},
        {"data": {"name": "one"}, "mark": {"type": "text", "text": "DS(on)", "angle": 270, "align": "left", "baseline": "alphabetic", "fontSize": 5, "color": "#111", "dx": -37.4, "dy": -33.7},
         "encoding": {"x": {"datum": 0, "type": "quantitative", "axis": null}, "y": {"datum": 0.03, "type": "quantitative", "axis": null}}},
        {"data": {"name": "one"}, "mark": {"type": "text", "text": "- On-Resistance (Ω)", "angle": 270, "align": "left", "baseline": "alphabetic", "fontSize": 7, "color": "#111", "dx": -19.8, "dy": -35.5},
         "encoding": {"x": {"datum": 0, "type": "quantitative", "axis": null}, "y": {"datum": 0.03, "type": "quantitative", "axis": null}}},
        {"data": {"name": "one"}, "mark": {"type": "text", "text": "On-Resistance vs. Gate-to-Source Voltage", "fontSize": 8, "fontWeight": "bold", "align": "center", "baseline": "middle", "dy": 37.5, "color": "#000"},
         "encoding": {"x": {"datum": 5, "type": "quantitative", "axis": null}, "y": {"datum": 0, "type": "quantitative", "axis": null}}}
      ]
    }
  ]
}
